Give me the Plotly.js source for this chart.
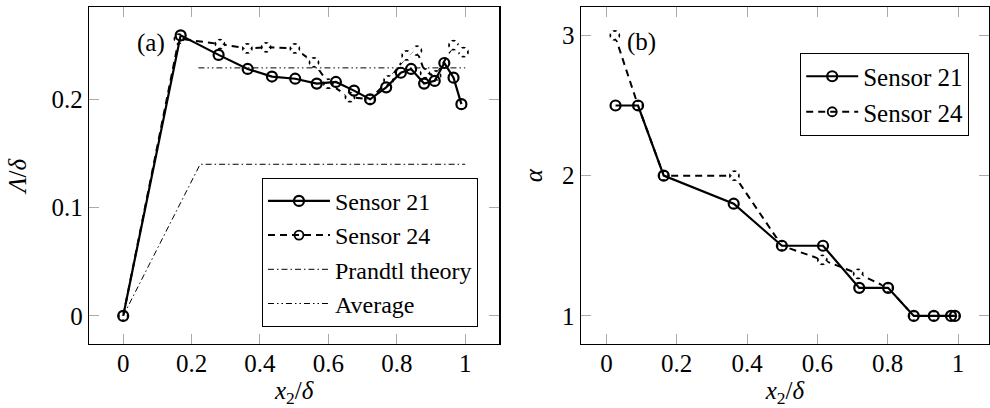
<!DOCTYPE html>
<html><head><meta charset="utf-8">
<script src="https://cdn.plot.ly/plotly-3.0.1.min.js"></script>
<style>html,body{margin:0;padding:0;background:#fff}#plot{width:990px;height:408px}</style>
</head><body><div id="plot"></div>
<script>
// (a) length scale
const xS21a = [0,0.168,0.279,0.364,0.435,0.503,0.566,0.622,0.675,0.722,0.769,0.812,0.842,0.880,0.911,0.939,0.966,0.989];
const yS21a = [0,0.259,0.241,0.228,0.221,0.219,0.2145,0.216,0.208,0.200,0.211,0.2245,0.228,0.2145,0.217,0.2335,0.220,0.1955];
const xS24a = [0,0.163,0.283,0.363,0.418,0.502,0.558,0.600,0.663,0.722,0.776,0.829,0.859,0.883,0.915,0.966,0.995];
const yS24a = [0,0.256,0.251,0.247,0.248,0.247,0.234,0.2145,0.202,0.200,0.2175,0.2405,0.245,0.224,0.222,0.250,0.2435];
const xPrandtl = [0,0.225,1];
const yPrandtl = [0,0.14,0.14];
const xAverage = [0.22,1];
const yAverage = [0.229,0.229];
// (b) alpha
const xS21b = [0.026,0.090,0.163,0.362,0.499,0.616,0.719,0.801,0.874,0.931,0.980,0.991];
const yS21b = [2.5,2.5,2.0,1.8,1.5,1.5,1.2,1.2,1.0,1.0,1.0,1.0];
const xS24b = [0.024,0.090,0.163,0.364,0.499,0.614,0.716,0.801,0.874,0.931,0.980,0.991];
const yS24b = [3.0,2.5,2.0,2.0,1.5,1.4,1.3,1.2,1.0,1.0,1.0,1.0];
const xTickVals = [0,0.2,0.4,0.6,0.8,1];
const xTickText = ["0","0.2","0.4","0.6","0.8","1"];
const yTickValsA = [0,0.1,0.2];
const yTickTextA = ["0","0.1","0.2"];
const yTickValsB = [1,2,3];
const yTickTextB = ["1","2","3"];
const names = ["Sensor 21","Sensor 24","Prandtl theory","Average"];

const FONT = "'Liberation Serif'";
const f = (s) => ({family:FONT,size:s||25,color:"#000"});
const s21 = {mode:"lines+markers", line:{color:"#000",width:2.2},
  marker:{symbol:"circle-open",size:10,color:"#000",line:{width:2.2,color:"#000"}}};
const s24 = {mode:"lines+markers", line:{color:"#000",width:2,dash:"7px,5px"},
  marker:{symbol:"circle-open",size:9,color:"#000",line:{width:1.8,color:"#000"}}};
const breaker = {mode:"markers", showlegend:false, hoverinfo:"skip",
  marker:{symbol:"x-thin-open",size:13,color:"#fff",line:{width:3.5,color:"#fff"}}};

const traces = [
  Object.assign({x:xS24a,y:yS24a,name:names[1],xaxis:"x",yaxis:"y",legend:"legend",legendrank:2}, s24),
  Object.assign({x:xS24a,y:yS24a,xaxis:"x",yaxis:"y"}, breaker),
  Object.assign({x:xS21a,y:yS21a,name:names[0],xaxis:"x",yaxis:"y",legend:"legend",legendrank:1}, s21),
  {x:xPrandtl,y:yPrandtl,name:names[2],mode:"lines",xaxis:"x",yaxis:"y",legend:"legend",legendrank:3,
   line:{color:"#000",width:1,dash:"6px,3px,1.5px,3px"}},
  {x:xAverage,y:yAverage,name:names[3],mode:"lines",xaxis:"x",yaxis:"y",legend:"legend",legendrank:4,
   line:{color:"#000",width:1,dash:"6px,3px,1.5px,3px,1.5px,3px"}},
  Object.assign({x:xS24b,y:yS24b,name:names[1],xaxis:"x2",yaxis:"y2",legend:"legend2",legendrank:2}, s24),
  Object.assign({x:xS24b,y:yS24b,xaxis:"x2",yaxis:"y2"}, breaker),
  Object.assign({x:xS21b,y:yS21b,name:names[0],xaxis:"x2",yaxis:"y2",legend:"legend2",legendrank:1}, s21)
];

const axBase = {showgrid:false, zeroline:false, showline:true, linecolor:"#000", linewidth:1.2,
  mirror:"ticks", ticks:"inside", ticklen:10, tickcolor:"#aaa", tickwidth:1,
  tickfont:f(), automargin:false};

const xTitle = {text:"<i>x</i><sub>2</sub>/<i>δ</i>", font:f(), standoff:17};

const layout = {
  width:990, height:408, margin:{l:0,r:0,t:0,b:0}, paper_bgcolor:"#fff", plot_bgcolor:"#fff",
  font:f(),
  xaxis: Object.assign({}, axBase, {domain:[0.0899,0.5044], range:[-0.1,1.1], tickvals:xTickVals, ticktext:xTickText, anchor:"y", title:xTitle, ticklabelstandoff:-3}),
  yaxis: Object.assign({}, axBase, {domain:[0.157,0.982], range:[-0.0259,0.2849], tickvals:yTickValsA, ticktext:yTickTextA, anchor:"x",
    title:{text:"<i>Λ</i>/<i>δ</i>", font:f(), standoff:17}}),
  xaxis2: Object.assign({}, axBase, {domain:[0.5866,0.999], range:[-0.073,1.088], tickvals:xTickVals, ticktext:xTickText, anchor:"y2", title:xTitle, ticklabelstandoff:-3}),
  yaxis2: Object.assign({}, axBase, {domain:[0.157,0.982], range:[0.8,3.2], tickvals:yTickValsB, ticktext:yTickTextB, anchor:"x2",
    title:{text:"<i>α</i>", font:f(), standoff:12}}),
  legend:{x:0.4828, xanchor:"right", y:0.199, yanchor:"bottom", bgcolor:"#fff", bordercolor:"#000", borderwidth:1,
    font:f(24), itemwidth:62, tracegroupgap:0, traceorder:"normal"},
  legend2:{x:0.979, xanchor:"right", y:0.7696, yanchor:"middle", bgcolor:"#fff", bordercolor:"#000", borderwidth:1,
    font:f(25), itemwidth:52, tracegroupgap:0, traceorder:"normal"},
  annotations:[
    {xref:"x",yref:"y",x:0.081,y:0.2516,text:"(a)",showarrow:false,font:f()},
    {xref:"x2",yref:"y2",x:0.099,y:2.952,text:"(b)",showarrow:false,font:f()}
  ],
  showlegend:true
};
Plotly.newPlot("plot", traces, layout, {staticPlot:true, displayModeBar:false});
</script></body></html>
